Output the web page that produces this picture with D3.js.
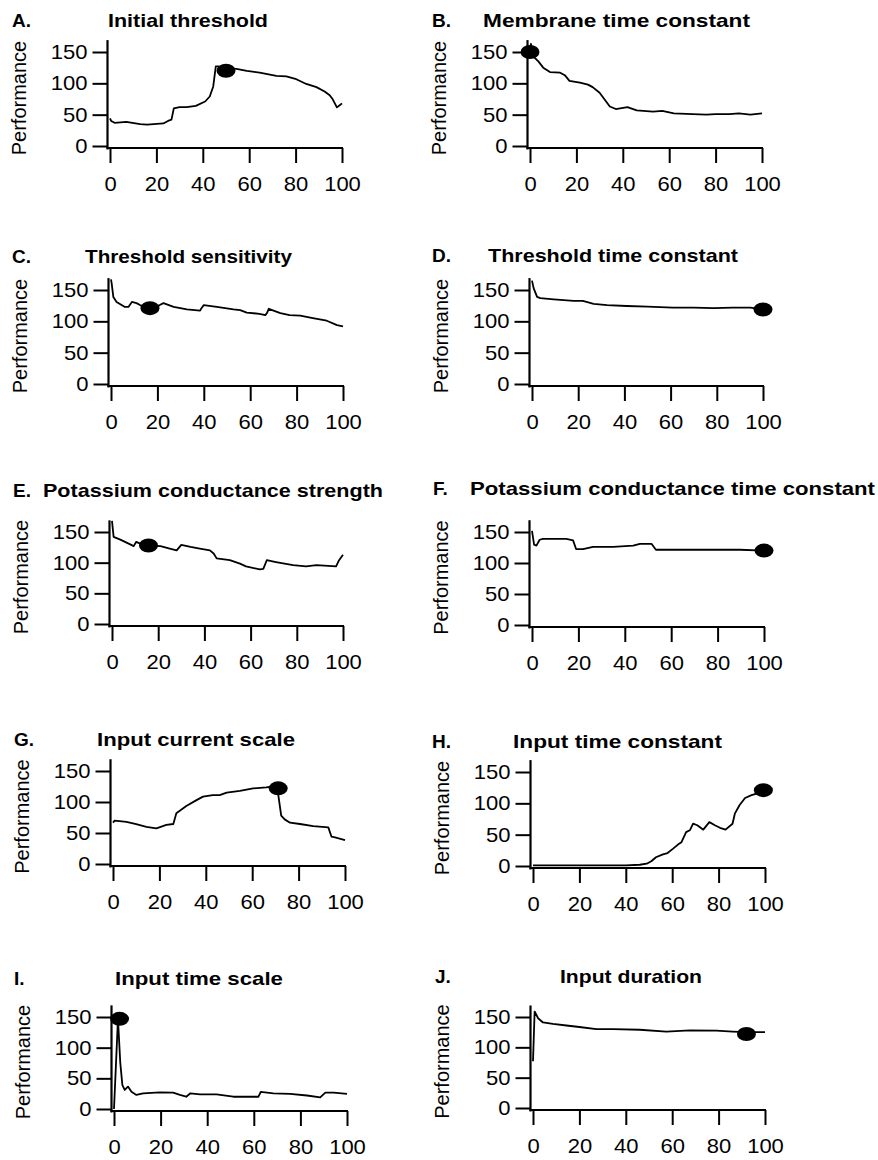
<!DOCTYPE html>
<html><head><meta charset="utf-8">
<script src="https://cdn.jsdelivr.net/npm/d3@7"></script>
<style>body{margin:0;background:#fff}svg{display:block}</style>
</head><body>
<svg id="c" width="878" height="1160"></svg>
<script>
// ---------- data ----------
const xTicks = [0, 20, 40, 60, 80, 100];
const yTicks = [0, 50, 100, 150];
const yLabel = "Performance";
const panelLetters = ["A.", "B.", "C.", "D.", "E.", "F.", "G.", "H.", "I.", "J."];
const panelTitles = ["Initial threshold", "Membrane time constant", "Threshold sensitivity",
  "Threshold time constant", "Potassium conductance strength", "Potassium conductance time constant",
  "Input current scale", "Input time constant", "Input time scale", "Input duration"];

const aX = [0, 0.5, 2, 7, 13, 16, 23, 25, 26.5, 27.5, 30, 33, 37, 41, 43, 44.5, 45.6, 46.6, 50, 54.5, 59, 64.5, 71.7, 76, 80.3, 84.6, 89, 92.5, 94.7, 96, 97.8, 99, 100];
const aY = [44, 40, 37, 38.5, 35, 34, 36, 40, 42, 60, 62, 62, 64, 71, 79, 95, 127, 127, 124, 123, 120, 117, 112, 111, 106.6, 99, 94, 87, 81, 74.5, 61.6, 65, 68];
const bX = [0, 0.4, 1.4, 3.6, 5.7, 8.6, 13, 15, 17, 21.5, 25, 27, 30, 32, 34.4, 37, 42, 46, 53, 57, 62, 70, 76, 80, 86, 90, 95, 100];
const bY = [150, 163, 143, 135, 125, 118, 117, 113, 104, 101, 98, 94, 85, 75, 63, 59, 62, 57, 55, 56, 52, 51, 50, 51, 51, 52, 50, 52];
const cX = [0, 0.3, 1, 2.4, 6, 7.5, 9, 11, 12.5, 16.8, 21, 22.6, 27, 32.7, 38.4, 39, 40, 45.6, 52.8, 55.7, 58.5, 64, 66.5, 67.2, 68, 73, 77, 81.6, 87, 93, 97.4, 100];
const cY = [167, 160, 139, 131, 123, 123, 131, 129, 126, 121, 126, 129, 123, 119, 117, 121, 126, 123, 119, 118, 114, 112, 110, 113, 120, 113, 110, 109, 105, 101, 94, 92];
const dX = [0, 0.7, 2.2, 3.6, 9.4, 18, 22, 26.7, 32.5, 41, 50, 61, 70, 78.6, 87, 94.5, 100];
const dY = [165, 153, 139, 137, 135, 132.5, 132.5, 128, 126, 124.5, 123.5, 122, 122, 121, 122, 122, 119];
const eX = [0, 0.7, 3.6, 7.2, 9.4, 10.5, 12.2, 15.8, 21, 25, 28, 30, 34, 38, 42.4, 44, 45.3, 51, 55.4, 58, 64, 65.5, 67, 71, 78.4, 84, 88.5, 97, 98.3, 100];
const eY = [168, 142, 137.5, 131, 127, 134, 131, 128, 127, 123, 120, 129, 125.6, 123, 120, 115, 107, 104, 98.5, 94, 89, 90, 104, 101, 96, 94, 96, 94, 104, 113];
const fX = [0, 0.9, 1.9, 3.3, 4.7, 14.8, 17.7, 19, 22, 26.3, 35, 43.6, 46.5, 51.5, 53.4, 61, 75, 89.6, 100];
const fY = [152, 129.5, 128, 137.5, 139, 139, 136.5, 122.5, 122.5, 126, 126, 128, 131, 131, 121.4, 121.4, 121.4, 121.4, 120];
const gX = [0, 0.7, 5.8, 8.6, 10, 14.4, 18.7, 23, 26, 27.3, 31.6, 36, 38.8, 43, 46, 49, 54.7, 60.4, 66, 69, 71, 72.5, 74, 76.3, 80.6, 86.3, 92.8, 94.2, 95.7, 100];
const gY = [66.7, 70, 68, 65.6, 64.5, 60, 57.5, 63, 64.5, 81.7, 93.5, 103, 108.6, 111, 111, 115, 118, 122, 123.7, 125, 118, 78, 72, 66.7, 64.5, 61, 59, 44, 43, 38.7];
const hX = [0, 10, 20, 30, 40, 46, 49, 51, 53, 56, 58, 60.4, 62.6, 64, 66, 67.6, 69, 70.8, 73.4, 76, 78.4, 80.6, 83, 86, 87, 89, 91.4, 94.2, 96.4, 99.3];
const hY = [1, 1, 1, 1, 1, 2, 3.7, 7.5, 14, 18.6, 20.7, 27.7, 34.6, 38, 54, 57, 67.5, 65, 58, 70, 65, 61, 58, 67.5, 83.5, 97, 108.5, 113, 115.4, 120.7];
const iX = [0, 1.7, 2.7, 3.6, 4.6, 6, 7.5, 9.6, 12.5, 19.7, 25.4, 28.3, 31, 32.8, 36.9, 44, 51.2, 60, 62, 63, 68.4, 75.6, 82.8, 88.5, 90.7, 94.3, 100];
const iY = [0, 147, 75, 39, 31, 36.5, 28, 23, 25.6, 27, 26.7, 23, 20, 25.6, 24, 24, 20, 20, 20, 28, 25.6, 24.5, 22, 19, 26.7, 26.7, 24.5];
const jX = [0, 0.7, 2.2, 4.3, 8.6, 14.4, 20, 27.3, 34.5, 46, 57.5, 67.6, 79, 86, 92, 100];
const jY = [77, 159, 148, 141, 138.5, 136, 133.5, 130, 130, 129, 126, 128, 127.5, 126, 125, 125];

const seriesX = [aX, bX, cX, dX, eX, fX, gX, hX, iX, jX];
const seriesY = [aY, bY, cY, dY, eY, fY, gY, hY, iY, jY];
const markerX = [50, 0, 16.8, 100, 15.8, 100, 71.2, 99.3, 2.4, 92];
const markerY = [120, 150, 121, 119, 128, 120, 122, 121, 147, 122];

// ---------- layout ----------
const layout = [
  {x0:110, x1:342, y0:146,  y150:52,   tb:27,  tx:108, tw:160, lx:12},
  {x0:530, x1:762, y0:146,  y150:52,   tb:27,  tx:483, tw:267, lx:432},
  {x0:111, x1:343, y0:384,  y150:290,  tb:263, tx:85,  tw:207, lx:12},
  {x0:532, x1:763, y0:384,  y150:290,  tb:262, tx:488, tw:250, lx:432},
  {x0:112, x1:343, y0:624,  y150:532,  tb:497, tx:43,  tw:340, lx:13},
  {x0:532, x1:764, y0:625,  y150:532,  tb:495, tx:470, tw:405, lx:433},
  {x0:113, x1:345, y0:864,  y150:771,  tb:746, tx:97,  tw:198, lx:14},
  {x0:533, x1:765, y0:866,  y150:772,  tb:748, tx:513, tw:209, lx:432},
  {x0:114, x1:347, y0:1109, y150:1017, tb:985, tx:115, tw:168, lx:14},
  {x0:533, x1:765, y0:1108, y150:1017, tb:983, tx:560, tw:142, lx:435}
];
const FONT = "'Liberation Sans', Arial, Helvetica, sans-serif";
const SX = 1.1;

const svg = d3.select("#c");
svg.append("rect").attr("width", 878).attr("height", 1160).attr("fill", "#fff");

panelTitles.forEach((title, i) => {
  const L = layout[i];
  const x = d3.scaleLinear().domain([0, 100]).range([L.x0, L.x1]);
  const y = d3.scaleLinear().domain([0, 150]).range([L.y0, L.y150]);
  const g = svg.append("g");
  const axX = x(0) - 2.5;

  // y axis
  const ya = g.append("g").attr("transform", `translate(${axX},0)`)
    .call(d3.axisLeft(y).tickValues(yTicks).tickSize(15).tickPadding(5));
  ya.select(".domain").remove();
  ya.attr("font-size", 20).attr("font-family", FONT);
  ya.selectAll(".tick line").attr("stroke", "#000").attr("stroke-width", 2);
  ya.selectAll(".tick text").attr("fill", "#000")
    .attr("x", -20 / SX).attr("transform", `scale(${SX},1)`);
  g.append("line").attr("x1", axX).attr("x2", axX)
    .attr("y1", y(0) + 3.5).attr("y2", y(169))
    .attr("stroke", "#000").attr("stroke-width", 2.2);

  // x axis
  const xa = g.append("g").attr("transform", `translate(0,${y(0) + 2})`)
    .call(d3.axisBottom(x).tickValues(xTicks).tickSize(15));
  xa.select(".domain").remove();
  xa.attr("font-size", 20).attr("font-family", FONT);
  xa.selectAll(".tick line").attr("stroke", "#000").attr("stroke-width", 2);
  xa.selectAll(".tick text").attr("fill", "#000")
    .attr("y", 43).attr("dy", 0).attr("transform", `scale(${SX},1)`);
  g.append("line").attr("x1", axX - 1).attr("x2", x(100) + 1)
    .attr("y1", y(0) + 2).attr("y2", y(0) + 2)
    .attr("stroke", "#000").attr("stroke-width", 2.2);

  // y label
  g.append("text").text(yLabel)
    .attr("transform", `translate(${L.x0 - 84},${(L.y0 + L.y150) / 2 - 1}) rotate(-90)`)
    .attr("text-anchor", "middle").attr("font-family", FONT).attr("font-size", 20).attr("fill", "#000");

  // title + letter
  g.append("text").text(panelLetters[i])
    .attr("x", L.lx).attr("y", L.tb).attr("font-family", FONT)
    .attr("font-weight", "bold").attr("font-size", 19).attr("fill", "#000");
  g.append("text").text(title)
    .attr("x", L.tx).attr("y", L.tb).attr("font-family", FONT)
    .attr("font-weight", "bold").attr("font-size", 19).attr("fill", "#000")
    .attr("textLength", L.tw).attr("lengthAdjust", "spacingAndGlyphs");

  // data line
  const pts = d3.zip(seriesX[i], seriesY[i]);
  g.append("path").datum(pts)
    .attr("d", d3.line().x(d => x(d[0])).y(d => y(d[1])))
    .attr("fill", "none").attr("stroke", "#000").attr("stroke-width", 1.8)
    .attr("stroke-linejoin", "round");

  // optimum marker
  g.append("ellipse").attr("cx", x(markerX[i])).attr("cy", y(markerY[i]))
    .attr("rx", 9.5).attr("ry", 7).attr("fill", "#000");
});
</script>
</body></html>
